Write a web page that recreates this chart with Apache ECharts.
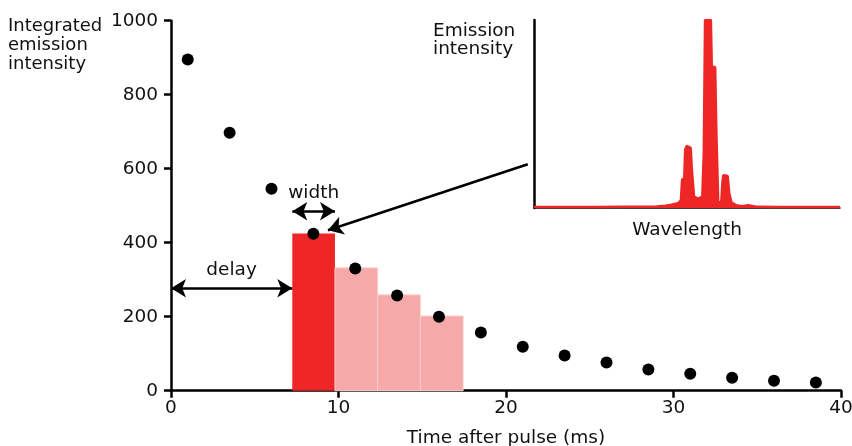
<!DOCTYPE html>
<html>
<head>
<meta charset="utf-8">
<script src="https://cdn.jsdelivr.net/npm/echarts@6/dist/echarts.min.js"></script>
<style>
  html, body { margin: 0; padding: 0; background: #fff; }
  #chart { width: 852px; height: 446px; }
</style>
</head>
<body>
<div id="chart"></div>
<script>
// Integrated emission sampled after each laser pulse (time in ms)
const pulseTimes = [1, 3.5, 6, 8.5, 11, 13.5, 16, 18.5, 21, 23.5, 26, 28.5, 31, 33.5, 36, 38.5];
const intensities = [895, 697, 546, 424, 330, 257, 200, 157, 119, 95, 76, 57, 46, 35, 27, 22];

// Detection gates: start times, common width and integrated value per gate
const gateStarts = [7.24, 9.79, 12.34, 14.89];
const gateWidth = 2.55;
const gateValues = [425, 332, 259, 202];

// Axis ticks
const xTicks = [0, 10, 20, 30, 40];
const yTicks = [0, 200, 400, 600, 800, 1000];

// Emission spectrum (arbitrary wavelength units, relative intensity)
const wavelength = [0, 20, 40, 43, 45, 47, 48, 48.4, 49.1, 49.4, 49.9, 51.2, 51.6, 52.3, 53.6, 55, 55.5, 55.9, 57.8, 58.1, 59.2, 59.6, 60.2, 61.2, 61.6, 61.9, 63.3, 63.8, 64.5, 66, 68, 70, 73, 80, 100];
const emission   = [0.5, 0.5, 0.8, 1.2, 1.8, 2.5, 4, 15, 16, 31, 33, 32, 20, 6, 5, 6, 30, 100, 100, 75, 75, 40, 3, 3, 14, 17.5, 17, 8, 3, 1.5, 1, 1.5, 0.6, 0.5, 0.5];

const RED = '#ee2626';
const PINK = '#f6a9a9';
const FONT = 'DejaVu Sans';
const FS = 18.5;

const chart = echarts.init(document.getElementById('chart'), null, { renderer: 'canvas' });

const gateData = gateStarts.map((s, i) => [s, s + gateWidth, gateValues[i], i]);

const option = {
  animation: false,
  textStyle: { fontFamily: FONT },
  grid: [
    { left: 171, top: 20.7, right: 11, bottom: 55.3, containLabel: false, outerBoundsMode: 'none' },
    { left: 534, top: 20, width: 306, height: 188, containLabel: false, outerBoundsMode: 'none' }
  ],
  xAxis: [
    {
      gridIndex: 0, type: 'value', min: xTicks[0], max: xTicks[xTicks.length - 1], interval: 10,
      name: 'Time after pulse (ms)', nameLocation: 'middle', nameGap: 38,
      nameTextStyle: { fontSize: FS, color: '#111', fontFamily: FONT },
      axisLine: { show: true, lineStyle: { color: '#000', width: 2.5 } },
      axisTick: { show: true, length: 7, lineStyle: { color: '#000', width: 2.5 } },
      axisLabel: { fontSize: FS, color: '#111', margin: 8, fontFamily: FONT },
      splitLine: { show: false }
    },
    {
      gridIndex: 1, type: 'value', min: 0, max: 100,
      name: 'Wavelength', nameLocation: 'middle', nameGap: 13,
      nameTextStyle: { fontSize: FS, color: '#111', fontFamily: FONT },
      axisLine: { show: true, lineStyle: { color: '#000', width: 1.5 } },
      axisTick: { show: false }, axisLabel: { show: false }, splitLine: { show: false }
    }
  ],
  yAxis: [
    {
      gridIndex: 0, type: 'value', min: yTicks[0], max: yTicks[yTicks.length - 1], interval: 200,
      axisLine: { show: true, lineStyle: { color: '#000', width: 2.5 } },
      axisTick: { show: true, length: 7, lineStyle: { color: '#000', width: 2.5 } },
      axisLabel: { fontSize: FS, color: '#111', margin: 13, fontFamily: FONT, formatter: v => String(v) },
      splitLine: { show: false }
    },
    {
      gridIndex: 1, type: 'value', min: 0, max: 100,
      axisLine: { show: true, lineStyle: { color: '#000', width: 2.5 } },
      axisTick: { show: false }, axisLabel: { show: false }, splitLine: { show: false }
    }
  ],
  series: [
    {
      // gated integration windows
      type: 'custom', xAxisIndex: 0, yAxisIndex: 0, z: 2,
      data: gateData,
      renderItem: function (params, api) {
        const p0 = api.coord([api.value(0), api.value(2)]);
        const p1 = api.coord([api.value(1), 0]);
        const first = api.value(3) === 0;
        return {
          type: 'rect',
          shape: { x: p0[0], y: p0[1], width: p1[0] - p0[0], height: p1[1] - p0[1] },
          style: { fill: first ? RED : PINK, stroke: first ? RED : '#fbd0d0', lineWidth: first ? 0 : 1 }
        };
      }
    },
    {
      type: 'scatter', xAxisIndex: 0, yAxisIndex: 0, z: 5,
      symbol: 'circle', symbolSize: 12,
      itemStyle: { color: '#000', opacity: 1 },
      data: pulseTimes.map((t, i) => [t, intensities[i]]),
      markLine: {
        silent: true, animation: false,
        symbol: ['arrow', 'arrow'], symbolSize: [14, 15],
        lineStyle: { color: '#000', width: 2.5, type: 'solid' },
        label: { show: true, position: 'insideMiddleTop', distance: 9, color: '#111', fontSize: FS, fontFamily: FONT },
        data: [
          [{ coord: [0, 277], label: { formatter: 'delay' } }, { coord: [gateStarts[0], 277] }],
          [{ coord: [gateStarts[0], 485], label: { formatter: 'width' } }, { coord: [gateStarts[0] + gateWidth, 485] }],
          [{ coord: [21.3, 612], symbol: 'none', label: { show: false } }, { coord: [9.37, 433.5], symbol: 'arrow' }]
        ]
      }
    },
    {
      type: 'line', xAxisIndex: 1, yAxisIndex: 1, z: 4,
      showSymbol: false, symbol: 'none',
      lineStyle: { color: RED, width: 2.5 },
      areaStyle: { color: RED, opacity: 1 },
      data: wavelength.map((w, i) => [w, emission[i]])
    }
  ],
  graphic: [
    {
      type: 'text', left: 8, top: 17,
      style: { text: 'Integrated\nemission\nintensity', font: '18px "DejaVu Sans"', fill: '#111', lineHeight: 19 }
    },
    {
      type: 'text', left: 433, top: 22,
      style: { text: 'Emission\nintensity', font: '18.5px "DejaVu Sans"', fill: '#111', lineHeight: 18 }
    }
  ]
};

chart.setOption(option);
</script>
</body>
</html>
